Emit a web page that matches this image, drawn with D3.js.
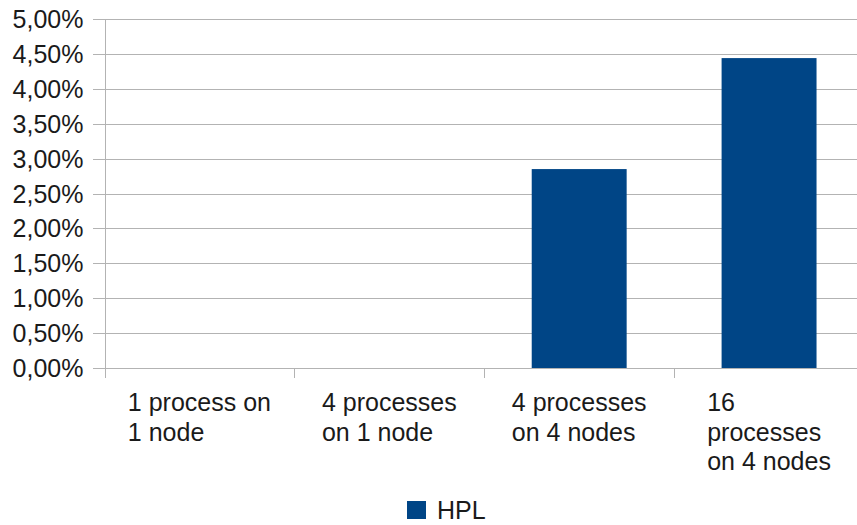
<!DOCTYPE html>
<html>
<head>
<meta charset="utf-8">
<script src="https://cdn.jsdelivr.net/npm/d3@7"></script>
<style>
  html, body { margin: 0; padding: 0; background: #fff; }
  svg { display: block; font-family: "Liberation Sans", Arial, sans-serif; }
</style>
</head>
<body>
<svg id="chart" width="857" height="525"></svg>
<script>
// HPL overhead per configuration
const categories = [
  ["1 process on", "1 node"],
  ["4 processes", "on 1 node"],
  ["4 processes", "on 4 nodes"],
  ["16", "processes", "on 4 nodes"]
];
const seriesName = "HPL";
const values = [0, 0, 2.85, 4.44];
const yTicks = [0, 0.5, 1, 1.5, 2, 2.5, 3, 3.5, 4, 4.5, 5];

(function draw() {
  const svg = d3.select("#chart");
  const plotLeft = 104.5, plotRight = 864, plotTop = 19, plotBottom = 368;
  const gridColor = "#b3b3b3";
  const textColor = "#1a1a1a";
  const fontSize = 25;

  const x = d3.scaleBand()
    .domain(d3.range(categories.length))
    .range([plotLeft, plotRight])
    .paddingInner(0.5)
    .paddingOuter(0.25);

  const y = d3.scaleLinear().domain([0, 5]).range([plotBottom, plotTop]);

  const fmt = v => v.toFixed(2).replace(".", ",") + "%";

  // horizontal gridlines with tick stubs to the left of the axis
  svg.append("g")
    .selectAll("line")
    .data(yTicks)
    .join("line")
    .attr("x1", plotLeft - 11.5)
    .attr("x2", plotRight)
    .attr("y1", d => Math.round(y(d)) + 0.5)
    .attr("y2", d => Math.round(y(d)) + 0.5)
    .attr("stroke", gridColor)
    .attr("stroke-width", 1);

  // y tick labels
  svg.append("g")
    .selectAll("text")
    .data(yTicks)
    .join("text")
    .attr("x", plotLeft - 21)
    .attr("y", d => y(d))
    .attr("dy", "0.36em")
    .attr("text-anchor", "end")
    .attr("font-size", fontSize)
    .attr("fill", textColor)
    .text(fmt);

  // bars
  svg.append("g")
    .selectAll("rect")
    .data(values)
    .join("rect")
    .attr("x", (d, i) => x(i))
    .attr("width", x.bandwidth())
    .attr("y", d => y(d))
    .attr("height", d => y(0) - y(d))
    .attr("fill", "#004586");

  // vertical axis line and category boundary ticks
  const step = x.step();
  const boundaries = d3.range(categories.length).map(i => x(i) - step * 0.25);
  svg.append("g")
    .selectAll("line")
    .data(boundaries)
    .join("line")
    .attr("x1", d => Math.round(d) + 0.5)
    .attr("x2", d => Math.round(d) + 0.5)
    .attr("y1", (d, i) => i === 0 ? plotTop : plotBottom)
    .attr("y2", plotBottom + 10)
    .attr("stroke", gridColor)
    .attr("stroke-width", 1);

  // category labels: left-aligned line blocks centred under each band
  const catG = svg.append("g");
  categories.forEach((lines, i) => {
    const t = catG.append("text")
      .attr("font-size", fontSize)
      .attr("fill", textColor);
    lines.forEach((ln, j) => {
      t.append("tspan").attr("y", 411 + j * 29.5).text(ln);
    });
    let maxW = 0;
    t.selectAll("tspan").each(function () {
      maxW = Math.max(maxW, this.getComputedTextLength());
    });
    const cx = x(i) + x.bandwidth() / 2;
    t.selectAll("tspan").attr("x", cx - maxW / 2);
  });

  // legend
  const legend = svg.append("g");
  legend.append("rect")
    .attr("x", 407).attr("y", 501)
    .attr("width", 19).attr("height", 18)
    .attr("fill", "#004586");
  legend.append("text")
    .attr("x", 437).attr("y", 519)
    .attr("font-size", fontSize)
    .attr("fill", textColor)
    .text(seriesName);
})();
</script>
</body>
</html>
